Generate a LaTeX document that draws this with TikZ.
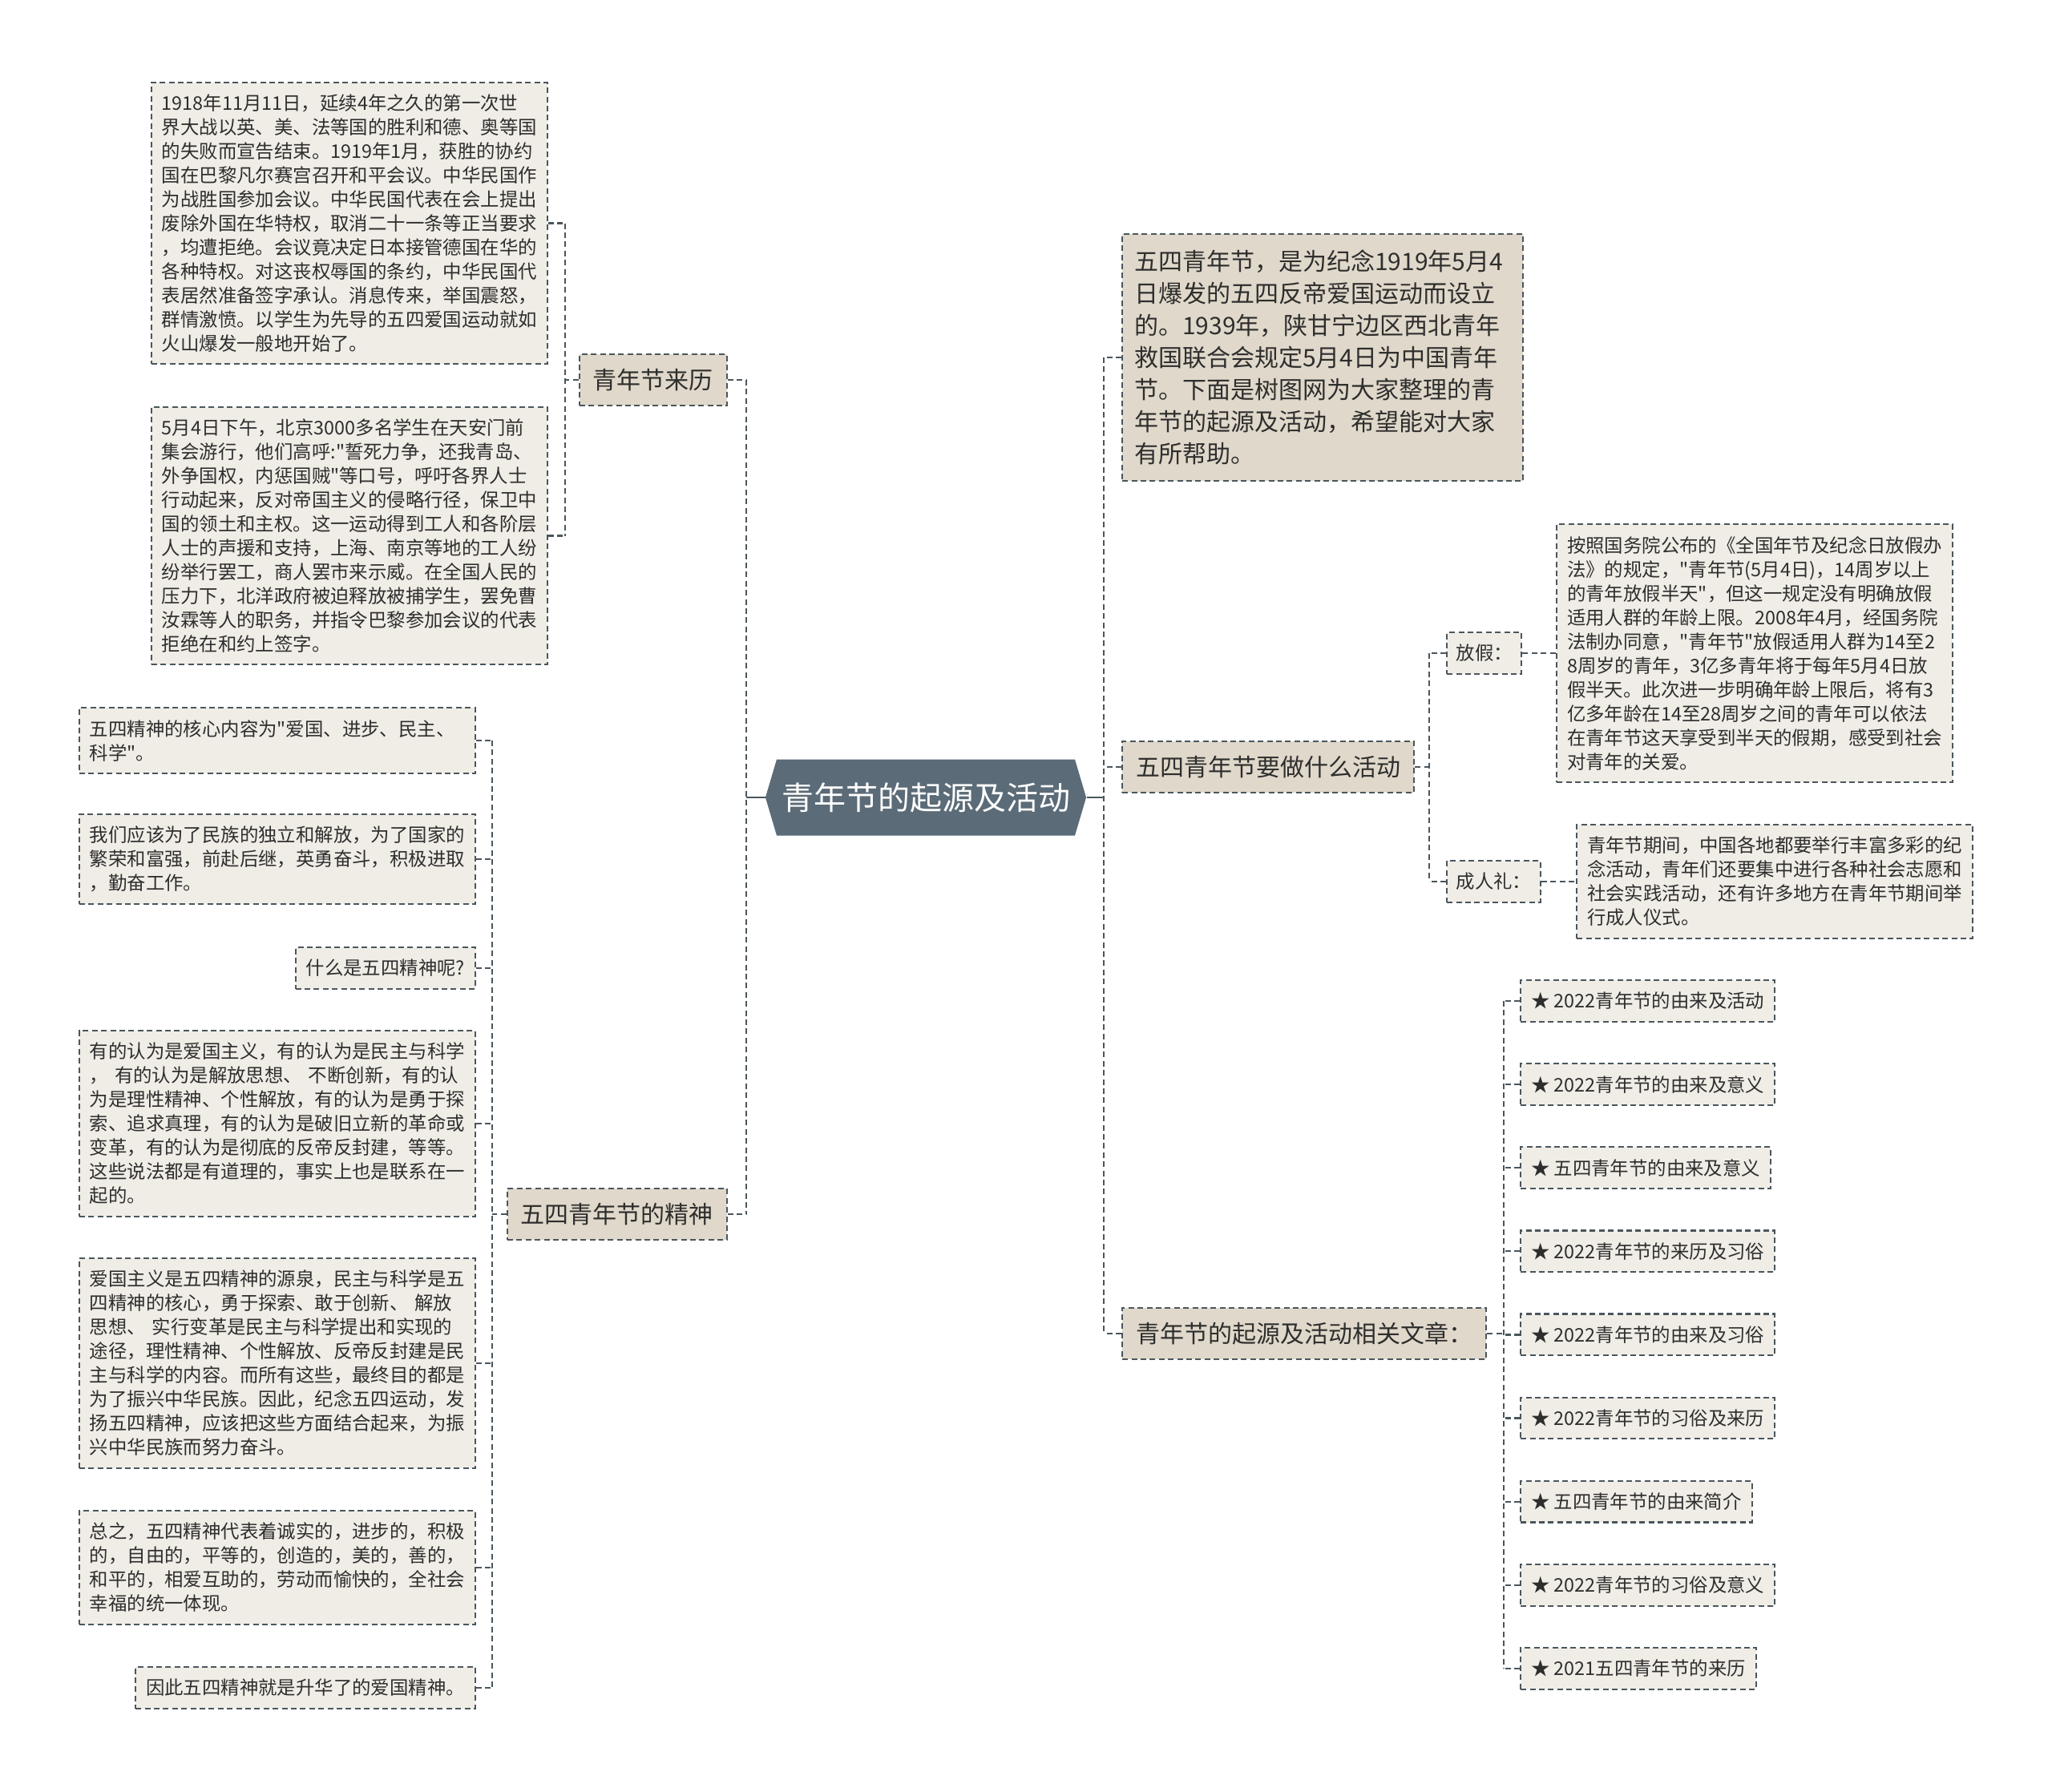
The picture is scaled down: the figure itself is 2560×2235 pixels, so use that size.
\documentclass[tikz,border=0pt]{standalone}
\usepackage{fontspec}
\setmainfont{Noto Sans CJK SC}[Ligatures=TeXOff]
\usetikzlibrary{shapes.symbols}
\definecolor{rootfill}{HTML}{5B6B77}
\definecolor{branchfill}{HTML}{E0D8CA}
\definecolor{leaffill}{HTML}{F0EDE6}
\definecolor{linecol}{HTML}{4A565D}
\definecolor{txt}{HTML}{2E2E2E}

\begin{document}
\begin{tikzpicture}[x=0.5pt, y=-0.5pt,
  every node/.style={text=txt, font=\fontsize{11.7}{15}\selectfont},
  leaf/.style={draw=linecol, line width=1.1pt, dash pattern=on 3.5pt off 2.2pt,
    fill=leaffill, inner xsep=6.5pt, inner ysep=7.5pt, align=left},
  wide/.style={leaf, text width=234pt},
  branch/.style={leaf, fill=branchfill, font=\fontsize{15}{20}\selectfont,
    inner xsep=8.5pt, inner ysep=9pt},
  link/.style={draw=linecol, line width=1.1pt, dash pattern=on 3.5pt off 2.2pt},
  trunk/.style={draw=linecol, line width=1.1pt}]

  \fill[white] (0,0) rectangle (2560,2235);
  \useasboundingbox (0,0) rectangle (2560,2235);

  % centre
  \node[signal, signal to=east and west, signal pointer angle=147,
    fill=rootfill, text=white, font=\fontsize{20}{24}\selectfont,
    minimum height=47.5pt, inner xsep=3pt] (root) at (1155,995) {青年节的起源及活动};
  \coordinate (lt) at (931,995);
  \coordinate (rt) at (1377,995);
  \draw[trunk] (root.west) -- (lt);
  \draw[trunk] (root.east) -- (rt);

  % left side
  \node[branch, anchor=east] (hist) at (908,474) {青年节来历};
  \node[branch, anchor=east] (spirit) at (908,1515) {五四青年节的精神};
  \draw[link] (hist.east -| lt) -- (spirit.east -| lt);
  \foreach \n in {hist, spirit}
    \draw[link] (\n.east) -- (\n.east -| lt);

  \node[wide, anchor=east] (hist1) at (684,278.5) {1918年11月11日，延续4年之久的第一次世\\界大战以英、美、法等国的胜利和德、奥等国\\的失败而宣告结束。1919年1月，获胜的协约\\国在巴黎凡尔赛宫召开和平会议。中华民国作\\为战胜国参加会议。中华民国代表在会上提出\\废除外国在华特权，取消二十一条等正当要求\\，均遭拒绝。会议竟决定日本接管德国在华的\\各种特权。对这丧权辱国的条约，中华民国代\\表居然准备签字承认。消息传来，举国震怒，\\群情激愤。以学生为先导的五四爱国运动就如\\火山爆发一般地开始了。};
  \node[wide, anchor=east] (hist2) at (684,668.5) {5月4日下午，北京3000多名学生在天安门前\\集会游行，他们高呼:"誓死力争，还我青岛、\\外争国权，内惩国贼"等口号，呼吁各界人士\\行动起来，反对帝国主义的侵略行径，保卫中\\国的领土和主权。这一运动得到工人和各阶层\\人士的声援和支持，上海、南京等地的工人纷\\纷举行罢工，商人罢市来示威。在全国人民的\\压力下，北洋政府被迫释放被捕学生，罢免曹\\汝霖等人的职务，并指令巴黎参加会议的代表\\拒绝在和约上签字。};
  \coordinate (ht) at (705,0);
  \draw[link] (hist.west) -- (hist.west -| ht);
  \draw[link] (hist1.east -| ht) -- (hist2.east -| ht);
  \foreach \n in {hist1, hist2}
    \draw[link] (\n.east) -- (\n.east -| ht);

  \node[wide, anchor=east] (s1) at (594,924) {五四精神的核心内容为"爱国、进步、民主、\\科学"。};
  \node[wide, anchor=east] (s2) at (594,1072) {我们应该为了民族的独立和解放，为了国家的\\繁荣和富强，前赴后继，英勇奋斗，积极进取\\，勤奋工作。};
  \node[leaf, anchor=east] (s3) at (594,1208) {什么是五四精神呢?};
  \node[wide, anchor=east] (s4) at (594,1402) {有的认为是爱国主义，有的认为是民主与科学\\， 有的认为是解放思想、 不断创新，有的认\\为是理性精神、个性解放，有的认为是勇于探\\索、追求真理，有的认为是破旧立新的革命或\\变革，有的认为是彻底的反帝反封建，等等。\\这些说法都是有道理的，事实上也是联系在一\\起的。};
  \node[wide, anchor=east] (s5) at (594,1701) {爱国主义是五四精神的源泉，民主与科学是五\\四精神的核心，勇于探索、敢于创新、 解放\\思想、 实行变革是民主与科学提出和实现的\\途径，理性精神、个性解放、反帝反封建是民\\主与科学的内容。而所有这些，最终目的都是\\为了振兴中华民族。因此，纪念五四运动，发\\扬五四精神，应该把这些方面结合起来，为振\\兴中华民族而努力奋斗。};
  \node[wide, anchor=east] (s6) at (594,1956) {总之，五四精神代表着诚实的，进步的，积极\\的，自由的，平等的，创造的，美的，善的，\\和平的，相爱互助的，劳动而愉快的，全社会\\幸福的统一体现。};
  \node[leaf, anchor=east] (s7) at (594,2106) {因此五四精神就是升华了的爱国精神。};
  \coordinate (st) at (614,0);
  \draw[link] (spirit.west) -- (spirit.west -| st);
  \draw[link] (s1.east -| st) -- (s7.east -| st);
  \foreach \n in {s1, s2, s3, s4, s5, s6, s7}
    \draw[link] (\n.east) -- (\n.east -| st);

  % right side
  \node[branch, text width=235pt, inner xsep=7.5pt, inner ysep=10pt, anchor=west] (intro) at (1399,446) {五四青年节，是为纪念1919年5月4\\日爆发的五四反帝爱国运动而设立\\的。1939年，陕甘宁边区西北青年\\救国联合会规定5月4日为中国青年\\节。下面是树图网为大家整理的青\\年节的起源及活动，希望能对大家\\有所帮助。};
  \node[branch, anchor=west] (act) at (1399,957) {五四青年节要做什么活动};
  \node[branch, anchor=west] (rel) at (1399,1664) {青年节的起源及活动相关文章：};
  \draw[link] (intro.west -| rt) -- (rel.west -| rt);
  \foreach \n in {intro, act, rel}
    \draw[link] (\n.west) -- (\n.west -| rt);

  \node[leaf, inner xsep=5.75pt, anchor=west] (hol) at (1804,815) {放假：};
  \node[leaf, inner xsep=5.75pt, anchor=west] (coa) at (1804,1100) {成人礼：};
  \node[wide, anchor=west] (holtxt) at (1941,815) {按照国务院公布的《全国年节及纪念日放假办\\法》的规定，"青年节(5月4日)，14周岁以上\\的青年放假半天"，但这一规定没有明确放假\\适用人群的年龄上限。2008年4月，经国务院\\法制办同意，"青年节"放假适用人群为14至2\\8周岁的青年，3亿多青年将于每年5月4日放\\假半天。此次进一步明确年龄上限后，将有3\\亿多年龄在14至28周岁之间的青年可以依法\\在青年节这天享受到半天的假期，感受到社会\\对青年的关爱。};
  \node[wide, anchor=west] (coatxt) at (1966,1100) {青年节期间，中国各地都要举行丰富多彩的纪\\念活动，青年们还要集中进行各种社会志愿和\\社会实践活动，还有许多地方在青年节期间举\\行成人仪式。};
  \coordinate (at) at (1783,0);
  \draw[link] (act.east) -- (act.east -| at);
  \draw[link] (hol.west -| at) -- (coa.west -| at);
  \foreach \n in {hol, coa}
    \draw[link] (\n.west) -- (\n.west -| at);
  \draw[link] (hol.east) -- (holtxt.west);
  \draw[link] (coa.east) -- (coatxt.west);

  \foreach \t [count=\i] in {2022青年节的由来及活动, 2022青年节的由来及意义,
      五四青年节的由来及意义, 2022青年节的来历及习俗, 2022青年节的由来及习俗,
      2022青年节的习俗及来历, 五四青年节的由来简介, 2022青年节的习俗及意义,
      2021五四青年节的来历}
    \node[leaf, anchor=west] (art\i) at (1896,{1249+(\i-1)*104.1}) {★ \t};
  \coordinate (rlt) at (1876,0);
  \draw[link] (rel.east) -- (rel.east -| rlt);
  \draw[link] (art1.west -| rlt) -- (art9.west -| rlt);
  \foreach \i in {1,...,9}
    \draw[link] (art\i.west) -- (art\i.west -| rlt);
\end{tikzpicture}
\end{document}
